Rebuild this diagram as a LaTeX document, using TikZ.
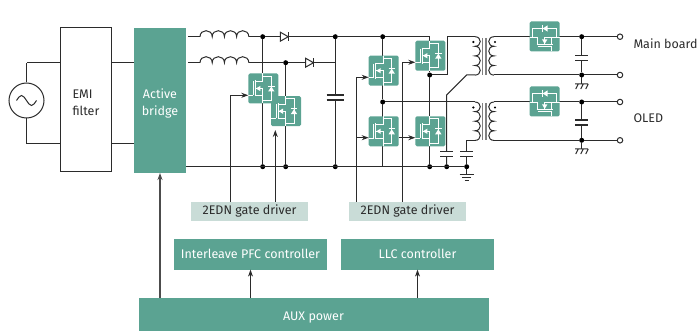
\documentclass[tikz,border=0pt]{standalone}
\usepackage{fontspec}
\setmainfont{Fira Sans}
\usetikzlibrary{arrows.meta,positioning}
\definecolor{wirecol}{HTML}{2B2B2B}
\definecolor{tealbox}{HTML}{5BA392}
\definecolor{palebox}{HTML}{C9DCD7}
\definecolor{corecol}{HTML}{808080}
\tikzset{
  block/.style={fill=tealbox,text=white,inner sep=0pt,outer sep=0pt,align=center},
  lbl/.style={text=white,inner sep=0pt,align=center},
  drvbox/.style={fill=palebox,text=wirecol,inner sep=0pt,outer sep=0pt,minimum width=117pt,minimum height=18.6pt},
  mos/.style={fill=tealbox,rounded corners=1.5pt,inner sep=0pt,outer sep=0pt,minimum size=30pt},
  jdot/.style={circle,fill=black,inner sep=0pt,outer sep=0pt,minimum size=5pt},
  term/.style={circle,draw,fill=white,inner sep=0pt,outer sep=0pt,minimum size=5.5pt},
  tdot/.style={circle,fill=black,inner sep=0pt,minimum size=2.4pt},
  mosicon/.pic={
    \draw[white,line width=.8pt] (-15,7) -- (-10,7) (-10,-7) -- (-10,7);
    \draw[white,line width=.8pt] (-8,-8) -- (-8,8);
    \draw[white,line width=.8pt] (-8,-7) -- (-.5,-7) -- (-.5,-15);
    \draw[white,line width=.8pt] (-8,7) -- (-.5,7) -- (-.5,15) (-8,0) -- (-.5,0) -- (-.5,7);
    \draw[white,line width=.8pt] (-.5,-12.5) -- (8,-12.5) -- (8,12) -- (-.5,12);
    \fill[white] (-7.5,0) -- (-3,-2.6) -- (-3,2.6) -- cycle;
    \fill[white] (8,-2) -- (4.8,3) -- (11.2,3) -- cycle;
    \draw[white,line width=.8pt] (4.8,-2.4) -- (11.2,-2.4);
  },
  coilh/.pic={
    \draw (0,0) \foreach \i in {1,...,4}{ .. controls +(0,-8) and +(0,-8) .. ++(12.2,0)};
  },
  coilv/.pic={
    \draw (0,0) \foreach \i in {1,...,4}{ .. controls +(7,0) and +(7,0) .. ++(0,9.6)};
  },
  core/.pic={
    \draw[corecol,line width=1.3pt] (0,0) -- (0,37) (3.6,0) -- (3.6,37);
  },
  diode/.pic={
    \draw[fill=white] (-4,-4.5) -- (4,0) -- (-4,4.5) -- cycle;
    \draw[line width=1.2pt] (4,-4.5) -- (4,4.5);
  },
  capa/.pic={
    \fill[white] (-#1,-2.2) rectangle (#1,2.2);
    \draw[line width=1.6pt] (-#1,-2.5) -- (#1,-2.5) (-#1,2.5) -- (#1,2.5);
  },
  chassis/.pic={
    \draw (-6.5,0) -- (6.5,0) (-3.5,0) -- (-6,5) (1.5,0) -- (-1,5) (6.5,0) -- (4,5);
  },
  gnd/.pic={
    \draw (-7,0) -- (7,0) (-4.5,3.2) -- (4.5,3.2) (-2,6.2) -- (2,6.2);
  },
}
\begin{document}
\begin{tikzpicture}[x=1pt,y=-1pt,line width=1pt,color=wirecol,>={Stealth[length=7pt,width=5pt]},
  every node/.append style={font=\fontsize{12.5}{17}\selectfont}]
\useasboundingbox (0,0) rectangle (697,331);

%blocks
\node[circle,draw,fill=white,inner sep=0pt,minimum size=35pt] (ac) at (26.5,100.5) {};
\node[draw,fill=white,inner sep=0pt,outer sep=0pt,minimum width=51.2pt,minimum height=144pt] (emi) at (85.9,100) {};
\node[anchor=west,align=left,inner sep=0pt] (emitxt) at (72,103) {EMI\\filter};
\node[block,minimum width=52pt,minimum height=145pt] (bridge) at (160,100.5) {};
\node[lbl] (bridgetxt) at (160,103.5) {Active\\bridge};

\node[block,minimum width=153pt,minimum height=30.7pt] (pfc) at (250.5,254.3) {Interleave PFC controller};
\node[block,minimum width=153pt,minimum height=30.7pt] (llc) [right=14pt of pfc] {LLC controller};
\node[block,minimum width=350pt,minimum height=33pt] (aux) at (314,314.5) {};
\node[lbl] (auxtxt) at (313.5,317.5) {AUX power};
\node[drvbox] (drva) at (249.5,211.3) {2EDN gate driver};
\node[drvbox] (drvb) at (407.5,211.3) {2EDN gate driver};

%junctions
\node[jdot] (ja) at (262.7,36.7) {};
\node[jdot] (jb) at (335.3,36.7) {};
\node[jdot] (jc) at (382.7,36.7) {};
\node[jdot] (jd) at (285.7,62.7) {};
\node[jdot] (je) at (262.7,166.7) {};
\node[jdot] (jf) at (285.7,166.7) {};
\node[jdot] (jg) at (335.3,166.7) {};
\node[jdot] (jh) at (382.7,102) {};
\node[jdot] (ji) at (429.7,75) {};
\node[jdot] (jj) at (429.7,166.7) {};
\node[jdot] (jk) at (446.7,166.7) {};
\node[jdot] (jl) at (466.7,166.7) {};
\node[jdot] (oa) at (581.7,36.7) {};
\node[jdot] (ob) at (581.7,75) {};
\node[jdot] (oc) at (581.7,102) {};
\node[jdot] (od) at (581.7,140.3) {};
\node[term] (ta) at (620,36.7) {};
\node[term] (tb) at (620,75) {};
\node[term] (tc) at (620,102) {};
\node[term] (td) at (620,140.3) {};

%free ends
\coordinate (actop) at (26.5,63);
\coordinate (acbot) at (26.5,144);
\coordinate (ea) at (60.3,63);
\coordinate (eb) at (60.3,144);
\coordinate (ec) at (111.5,63);
\coordinate (ed) at (111.5,144);
\coordinate (ba) at (134,63);
\coordinate (bb) at (134,144);
\coordinate (la) at (188,36.7);
\coordinate (lb) at (188,62.7);
\coordinate (lc) at (200,36.7);
\coordinate (ld) at (200,62.7);
\coordinate (le) at (248.8,36.7);
\coordinate (lf) at (248.8,62.7);
\coordinate (cl) at (335.3,62.7);
\coordinate (bc) at (186,166.7);
\coordinate (tp) at (429.7,36.7);
\coordinate (pa) at (447.7,36.7);
\coordinate (pb) at (447.7,75);
\coordinate (pc) at (475,36.7);
\coordinate (pd) at (475,75);
\coordinate (pe) at (466.7,75);
\coordinate (pf) at (446.7,95);
\coordinate (pg) at (475,102);
\coordinate (ph) at (475,140.3);
\coordinate (pi) at (466.7,140.3);
\coordinate (sa) at (494,36.7);
\coordinate (sb) at (494,75);
\coordinate (sc) at (494,102);
\coordinate (sd) at (494,140.3);
\coordinate (ca) at (581.7,84);
\coordinate (cb) at (581.7,149);
\coordinate (gn) at (466.7,174.3);

%wires
\path (actop) edge (ac) (acbot) edge (ac);
\draw (ea) -- (actop) (eb) -- (acbot);
\path (ec) edge (ba) (ed) edge (bb);
\path (la) edge (lc) (lb) edge (ld);
\path (le) edge (ja) (ja) edge (jb) (jb) edge (jc) (jb) edge (jg);
\path (lf) edge (jd) (jd) edge (cl);
\path (ja) edge (je) (jd) edge (jf);
\path (bc) edge (jl);
\path (jc) edge (jh) (jh) edge (382.7,166.7);
\draw (jc) -- (tp) -- (ji);
\path (ji) edge (jj);
\draw (ji) -- (pb) -- (pa) -- (pc);
\draw (pd) -- (pe) -- (pf) -- (jk);
\path (jh) edge (pg);
\draw (ph) -- (pi) -- (jl);
\path (sa) edge (oa) (oa) edge (ta) (sb) edge (ob) (ob) edge (tb);
\path (sc) edge (oc) (oc) edge (tc) (sd) edge (od) (od) edge (td);
\path (oa) edge (ob) (oc) edge (od);
\path (ob) edge (ca) (od) edge (cb) (jl) edge (gn);

%switches
\node[mos] (qa) at (263.3,88.5) {};
\node[mos] (qb) at (286,111.2) {};
\node[mos] (qc) at (383.7,70.7) {};
\node[mos] (qd) at (430.3,55.7) {};
\node[mos] (qe) at (383.7,131.3) {};
\node[mos] (qf) [right=16.6pt of qe] {};
\node[mos] (qg) at (544.7,36.5) {};
\node[mos] (qh) at (544.7,101.5) {};
\pic at (qa) {mosicon};
\pic at (qb) {mosicon};
\pic at (qc) {mosicon};
\pic at (qd) {mosicon};
\pic at (qe) {mosicon};
\pic at (qf) {mosicon};
\pic[rotate=90] at (qg) {mosicon};
\pic[rotate=90] at (qh) {mosicon};

%parts
\draw (16.5,100.5) sin ++(5,-5) cos ++(5,5) sin ++(5,5) cos ++(5,-5);
\pic at (lc) {coilh};
\pic at (ld) {coilh};
\pic at (284.3,36.7) {diode};
\pic at (309.5,62.7) {diode};
\pic at (335.3,97.7) {capa=8.8};
\pic at (446.7,154) {capa=6.5};
\pic at (466.7,154) {capa=6.5};
\pic at (581.7,58) {capa=6.4};
\pic at (581.7,122.7) {capa=6.4};
\pic at (pc) {coilv};
\pic at (pg) {coilv};
\pic[xscale=-1] at (sa) {coilv};
\pic[xscale=-1] at (sc) {coilv};
\pic at (482.3,38) {core};
\pic at (482.3,103) {core};
\pic at (ca) {chassis};
\pic at (cb) {chassis};
\pic at (gn) {gnd};
\node[tdot] (da) at (473.3,42) {};
\node[tdot] (db) at (495,42) {};
\node[tdot] (dc) at (473.3,107.5) {};
\node[tdot] (dd) at (495,107.5) {};

%gate signals
\coordinate (gaa) at (230.6,202);
\coordinate (gab) at (275.3,202);
\coordinate (gba) at (356.5,202);
\coordinate (gbb) at (402.7,202);
\draw[->] (gaa) |- (qa.west |- 0,95.3);
\draw[->] (gab) -- (275.3,130);
\draw[->] (gba) |- (qc.west |- 0,77.3);
\draw[->] (gbb) |- (qd.west |- 0,62.3);
\draw[->] (356.5,137.7) -- (qe.west |- 0,137.7);
\draw[->] (qe.east |- 0,137.7) -- (qf.west |- 0,137.7);

%aux feeds
\draw[->,line width=1.2pt,color=black!70] (aux.north -| bridge) -- (bridge.south);
\draw[->] (aux.north -| pfc) -- (pfc.south);
\draw[->] (aux.north -| llc) -- (llc.south);

\node[anchor=west,inner sep=0pt] (mainlbl) at (633,43.3) {Main board};
\node[anchor=west,inner sep=0pt] (oledlbl) at (633,118.3) {OLED};

\end{tikzpicture}
\end{document}
